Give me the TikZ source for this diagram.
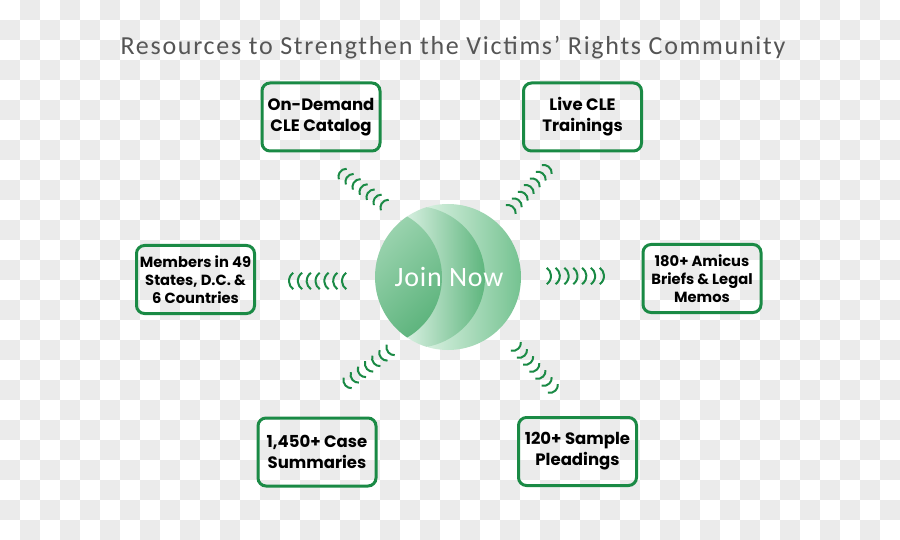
\documentclass[tikz,border=0pt]{standalone}
\usepackage{fontspec}
\setmainfont{Carlito}
\newfontfamily\boxfont{Poppins}
\newfontfamily\titlefont[LetterSpace=6.6]{Carlito}
\newfontfamily\joinfont[LetterSpace=3]{Carlito}
\usetikzlibrary{calc}
\definecolor{grn}{HTML}{1A8A45}
\definecolor{chk}{HTML}{EBEBEB}
\definecolor{ttl}{HTML}{555555}
\definecolor{frontL}{HTML}{A0D6B3}
\definecolor{frontD}{HTML}{56B077}
\definecolor{midL}{HTML}{DDF2E5}
\definecolor{midD}{HTML}{5BB47B}
\definecolor{rearL}{HTML}{D5EFDE}
\definecolor{rearD}{HTML}{74C290}
\newcommand\wavegroup[4]{% outer coord, inner coord, angle, radius
  \foreach \k in {0,...,6}{%
    \coordinate (w) at ($(#1)!\k/6!(#2)$);
    \draw[wave] ($(w)+(#3-55:#4)-(#3:#4)$) arc[start angle=#3-55, end angle=#3+55, radius=#4];
  }}
\begin{document}
\begin{tikzpicture}[x=1pt,y=1pt,
  infobox/.style={draw=grn, line width=3pt, rounded corners=8pt, minimum width=118pt, minimum height=68pt, inner sep=0pt, align=center, text=black},
  twoline/.style={font=\boxfont\bfseries\fontsize{16.5}{21}\selectfont},
  threeline/.style={font=\boxfont\bfseries\fontsize{14.7}{18}\selectfont},
  wave/.style={draw=grn, line width=2pt}]
\useasboundingbox (0,0) rectangle (900,-540);
\fill[white] (0,0) rectangle (900,-540);
\foreach \j in {0,...,26}{%
  \pgfmathtruncatemacro\s{mod(\j+1,2)}%
  \pgfmathtruncatemacro\t{\s+2}%
  \foreach \i in {\s,\t,...,44}{%
    \fill[chk] (\i*20,-\j*20) rectangle ++(20,-20);
  }}
% title
\node[text=ttl, font=\titlefont\fontsize{26}{30}\selectfont] (title) at (453,-48) {Resources to Strengthen the Victims’ Rights Community};
% central circle
\coordinate (jc) at (448,-277);
\begin{scope}
  \clip (jc) circle (73);
  \shade[left color=rearL, right color=rearD] (428,-200) rectangle (522,-355);
  \begin{scope}
    \clip (414,-277) circle (71);
    \shade[left color=midL, right color=midD] (402,-200) rectangle (487,-355);
  \end{scope}
  \begin{scope}
    \clip (372,-277) circle (70);
    \shade[top color=frontL, bottom color=frontD, shading angle=45] (374,-200) rectangle (444,-355);
  \end{scope}
\end{scope}
\node[text=white, font=\joinfont\fontsize{28}{32}\selectfont] (join) at (449,-277) {Join Now};
% boxes
\node[infobox, twoline] (b1) at (321,-117) {On-Demand\\CLE Catalog};
\node[infobox, twoline] (b2) at (582.5,-117) {Live CLE\\Trainings};
\node[infobox, threeline] (b3) at (195.5,-279.5) {Members in 49\\States, D.C. \&\\6 Countries};
\node[infobox, threeline] (b4) at (702,-278.5) {180+ Amicus\\Briefs \& Legal\\Memos};
\node[infobox, twoline] (b5) at (317,-452) {1,450+ Case\\Summaries};
\node[infobox, twoline] (b6) at (577.5,-451.5) {120+ Sample\\Pleadings};
% waves
\coordinate (tlo) at (340,-172); \coordinate (tli) at (382,-203);
\coordinate (tro) at (549,-167); \coordinate (tri) at (513,-207);
\coordinate (blo) at (345,-385); \coordinate (bli) at (388,-352);
\coordinate (bro) at (555,-391); \coordinate (bri) at (518,-349);
\coordinate (lo) at (289,-281); \coordinate (li) at (342,-281);
\coordinate (ro) at (604,-276); \coordinate (ri) at (551,-276);
\wavegroup{tlo}{tli}{143.6}{8}
\wavegroup{tro}{tri}{48.8}{8}
\wavegroup{blo}{bli}{217.5}{8}
\wavegroup{bro}{bri}{-50}{8}
\wavegroup{lo}{li}{180}{10}
\wavegroup{ro}{ri}{0}{10}
\end{tikzpicture}
\end{document}
